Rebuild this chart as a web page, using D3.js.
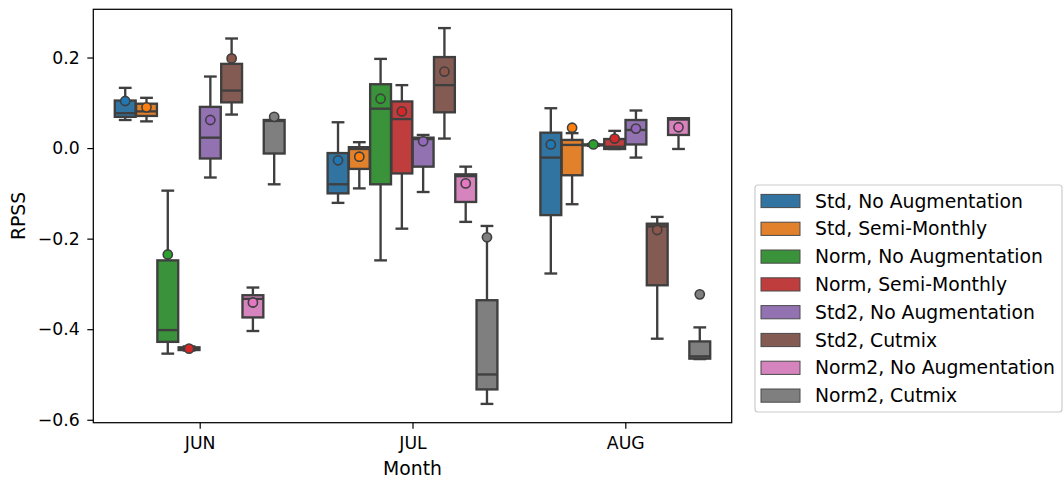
<!DOCTYPE html>
<html>
<head>
<meta charset="utf-8">
<script src="https://cdn.jsdelivr.net/npm/d3@7"></script>
<style>
  html, body { margin: 0; padding: 0; background: #fff; }
  svg { display: block; font-family: "DejaVu Sans", sans-serif; }
</style>
</head>
<body>
<svg id="chart" width="1064" height="481"></svg>
<script>
// ---- Data ----
const months = ["JUN", "JUL", "AUG"];
const seriesNames = [
  "Std, No Augmentation", "Std, Semi-Monthly", "Norm, No Augmentation", "Norm, Semi-Monthly",
  "Std2, No Augmentation", "Std2, Cutmix", "Norm2, No Augmentation", "Norm2, Cutmix"
];
const boxColors  = ["#3274a1", "#e1812c", "#3a923a", "#c03d3e", "#9372b2", "#845b53", "#d684bd", "#7f7f7f"];
const meanColors = ["#1f77b4", "#ff7f0e", "#2ca02c", "#d62728", "#9467bd", "#8c564b", "#e377c2", "#7f7f7f"];
const yTicks = [-0.6, -0.4, -0.2, 0.0, 0.2];

// Each series: per month [whiskerLow, Q1, median, Q3, whiskerHigh, mean]
const stdNoAug   = [[0.062, 0.069, 0.077, 0.105, 0.133, 0.104], [-0.121, -0.100, -0.080, -0.011, 0.057, -0.027], [-0.277, -0.148, -0.021, 0.034, 0.088, 0.008]];
const stdSemi    = [[0.059, 0.071, 0.081, 0.098, 0.111, 0.090], [-0.089, -0.046, -0.002, 0.002, 0.013, -0.019], [-0.124, -0.060, 0.007, 0.018, 0.033, 0.045]];
const normNoAug  = [[-0.454, -0.428, -0.402, -0.248, -0.094, -0.235], [-0.248, -0.080, 0.087, 0.141, 0.197, 0.109], [0.005, 0.006, 0.007, 0.008, 0.009, 0.008]];
const normSemi   = [[-0.447, -0.446, -0.443, -0.440, -0.438, -0.443], [-0.178, -0.056, 0.064, 0.103, 0.139, 0.081], [-0.002, -0.002, 0.003, 0.020, 0.038, 0.021]];
const std2NoAug  = [[-0.065, -0.023, 0.023, 0.091, 0.158, 0.062], [-0.097, -0.041, 0.020, 0.023, 0.029, 0.015], [-0.021, 0.008, 0.040, 0.062, 0.083, 0.043]];
const std2Cutmix = [[0.074, 0.101, 0.127, 0.186, 0.242, 0.198], [0.021, 0.079, 0.139, 0.201, 0.265, 0.169], [-0.421, -0.303, -0.173, -0.167, -0.152, -0.181]];
const norm2NoAug = [[-0.404, -0.374, -0.333, -0.325, -0.308, -0.341], [-0.163, -0.119, -0.062, -0.058, -0.041, -0.078], [-0.002, 0.029, 0.063, 0.066, 0.066, 0.046]];
const norm2Cutmix= [[-0.080, -0.012, 0.060, 0.062, 0.062, 0.069], [-0.565, -0.533, -0.500, -0.336, -0.172, -0.197], [-0.466, -0.465, -0.460, -0.427, -0.396, -0.323]];
const allSeries = [stdNoAug, stdSemi, normNoAug, normSemi, std2NoAug, std2Cutmix, norm2NoAug, norm2Cutmix];

// ---- Layout ----
const svg = d3.select("#chart");
const plot = { left: 93.3, right: 731.7, top: 9.3, bottom: 422.7 };
const gray = "#3f3f3f";
const lw = 2.35;
const tickFont = "17.3px";
const labelFont = "18.8px";

const x = d3.scaleLinear().domain([-0.5, months.length - 0.5]).range([plot.left, plot.right]);
const hueOffset = d3.scaleBand().domain(d3.range(seriesNames.length)).range([-0.4, 0.4]);
const y = d3.scaleLinear().domain([-0.6065, 0.3065]).range([plot.bottom, plot.top]);
const unitPx = x(1) - x(0);
const boxW = hueOffset.bandwidth() * 0.98 * unitPx;
const capW = boxW * 0.5;

const g = svg.append("g");

months.forEach((m, mi) => {
  allSeries.forEach((series, si) => {
    const [lo, q1, med, q3, hi, mean] = series[mi];
    const cx = x(mi + hueOffset(si) + hueOffset.bandwidth() / 2);
    const bg = g.append("g");
    // whiskers
    bg.append("line").attr("x1", cx).attr("x2", cx).attr("y1", y(q1)).attr("y2", y(lo))
      .attr("stroke", gray).attr("stroke-width", lw);
    bg.append("line").attr("x1", cx).attr("x2", cx).attr("y1", y(q3)).attr("y2", y(hi))
      .attr("stroke", gray).attr("stroke-width", lw);
    // caps
    [lo, hi].forEach(v => {
      bg.append("line").attr("x1", cx - capW / 2).attr("x2", cx + capW / 2).attr("y1", y(v)).attr("y2", y(v))
        .attr("stroke", gray).attr("stroke-width", lw).attr("stroke-linecap", "square");
    });
    // box
    bg.append("rect").attr("x", cx - boxW / 2).attr("width", boxW)
      .attr("y", y(q3)).attr("height", Math.max(0, y(q1) - y(q3)))
      .attr("fill", boxColors[si]).attr("stroke", gray).attr("stroke-width", lw)
      .attr("stroke-linejoin", "miter");
    // median
    bg.append("line").attr("x1", cx - boxW / 2).attr("x2", cx + boxW / 2).attr("y1", y(med)).attr("y2", y(med))
      .attr("stroke", gray).attr("stroke-width", lw);
    // mean
    bg.append("circle").attr("cx", cx).attr("cy", y(mean)).attr("r", 4.6)
      .attr("fill", meanColors[si]).attr("stroke", gray).attr("stroke-width", 1.6);
  });
});

// ---- Axes ----
const fmt = v => d3.format(".1f")(v).replace("-", "\u2212");
const yAxis = svg.append("g").attr("transform", `translate(${plot.left},0)`)
  .call(d3.axisLeft(y).tickValues(yTicks).tickFormat(fmt).tickSize(6).tickPadding(7.5));
const xAxis = svg.append("g").attr("transform", `translate(0,${plot.bottom})`)
  .call(d3.axisBottom(x).tickValues(d3.range(months.length)).tickFormat(i => months[i]).tickSize(6).tickPadding(8));
[yAxis, xAxis].forEach(a => {
  a.attr("font-size", null).attr("font-family", null);
  a.select(".domain").remove();
  a.selectAll(".tick line").attr("stroke", "#000").attr("stroke-width", 1.2);
  a.selectAll(".tick text").attr("fill", "#000").style("font-size", tickFont).style("font-family", "DejaVu Sans");
});

// frame
svg.append("rect").attr("x", plot.left).attr("y", plot.top)
  .attr("width", plot.right - plot.left).attr("height", plot.bottom - plot.top)
  .attr("fill", "none").attr("stroke", "#000").attr("stroke-width", 1.25);

// axis labels
svg.append("text").attr("x", (plot.left + plot.right) / 2).attr("y", 475)
  .attr("text-anchor", "middle").style("font-size", labelFont).text("Month");
svg.append("text").attr("transform", `translate(25,${(plot.top + plot.bottom) / 2}) rotate(-90)`)
  .attr("text-anchor", "middle").style("font-size", labelFont).text("RPSS");

// ---- Legend ----
const leg = svg.append("g");
leg.append("rect").attr("x", 755).attr("y", 185).attr("width", 307).attr("height", 227)
  .attr("rx", 3).attr("fill", "#fff").attr("stroke", "#cccccc").attr("stroke-width", 1.2);
seriesNames.forEach((name, i) => {
  const cy = 201 + i * 27.8;
  leg.append("rect").attr("x", 761).attr("y", cy - 6.6).attr("width", 39).attr("height", 13.2)
    .attr("fill", boxColors[i]).attr("stroke", "#4a4a4a").attr("stroke-width", 1);
  leg.append("text").attr("x", 815).attr("y", cy).attr("dy", "0.35em")
    .style("font-size", labelFont).attr("fill", "#000").text(name);
});
</script>
</body>
</html>
